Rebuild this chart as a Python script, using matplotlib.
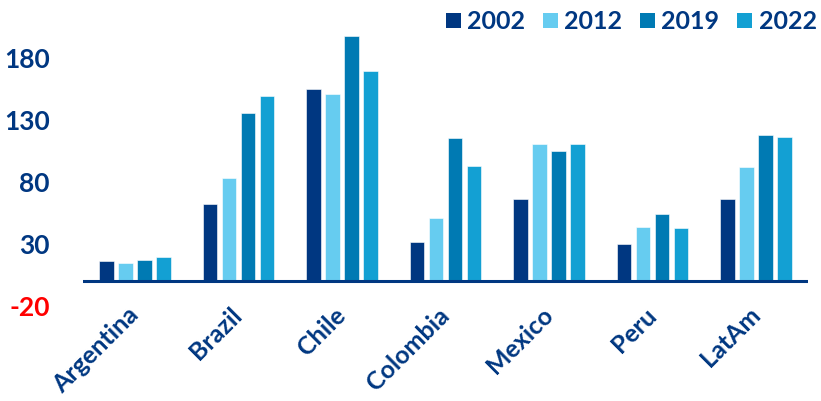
import matplotlib
matplotlib.use("Agg")
import matplotlib.pyplot as plt
import numpy as np
from matplotlib.patches import Patch

categories = ["Argentina", "Brazil", "Chile", "Colombia", "Mexico", "Peru", "LatAm"]
years = ["2002", "2012", "2019", "2022"]
v2002 = [16.1, 62.0, 154.8, 31.7, 65.9, 29.6, 66.4]
v2012 = [14.5, 82.8, 150.6, 50.6, 110.2, 43.3, 92.2]
v2019 = [16.9, 135.2, 197.6, 115.1, 104.8, 54.0, 118.0]
v2022 = [19.4, 149.2, 169.4, 92.7, 110.2, 42.5, 116.1]
yticks = [-20, 30, 80, 130, 180]

series = [v2002, v2012, v2019, v2022]
colors = ["#003781", "#66CCF0", "#007AB3", "#13A0D3"]
navy = "#003781"

plt.rcParams['font.family'] = ['Lato', 'DejaVu Sans']

fig = plt.figure(figsize=(8.21, 4.01), dpi=100)
ax = fig.add_axes([0.1011, 0.2374, 0.883, 0.7112])

x = np.arange(len(categories))
step = 0.1835
width = 0.14
for i, (vals, c) in enumerate(zip(series, colors)):
    ax.bar(x + (i - 1.5) * step, vals, width=width, color=c,
           edgecolor="white", linewidth=0.4, zorder=2)

ax.axhline(0, color=navy, linewidth=2.2, zorder=3)
ax.set_xlim(-0.5, len(categories) - 0.5)
ax.set_ylim(-20, 210)
for s in ax.spines.values():
    s.set_visible(False)

ax.set_yticks(yticks)
ax.set_yticklabels([str(t) for t in yticks], fontsize=19, fontweight='bold')
for lab, t in zip(ax.get_yticklabels(), yticks):
    lab.set_color("#FF0000" if t < 0 else navy)
ax.tick_params(axis='y', length=0, pad=24)

ax.set_xticks(x)
ax.set_xticklabels(categories, rotation=45, ha='right', rotation_mode='anchor',
                   fontsize=18, color=navy, fontweight='bold')
ax.tick_params(axis='x', length=0, pad=4)
for lab in ax.get_xticklabels():
    lab.set_va('center')

handles = [Patch(facecolor=c, edgecolor='none') for c in colors]
fig.legend(handles, years, loc='upper right', bbox_to_anchor=(1.016, 1.018),
           ncol=4, frameon=False, handlelength=0.6, handleheight=0.6,
           handletextpad=0.25, columnspacing=0.72, borderpad=0.2,
           prop={'family': ['Lato', 'DejaVu Sans'], 'size': 18, 'weight': 'bold'},
           labelcolor=navy)

fig.savefig("out.png", dpi=100)
